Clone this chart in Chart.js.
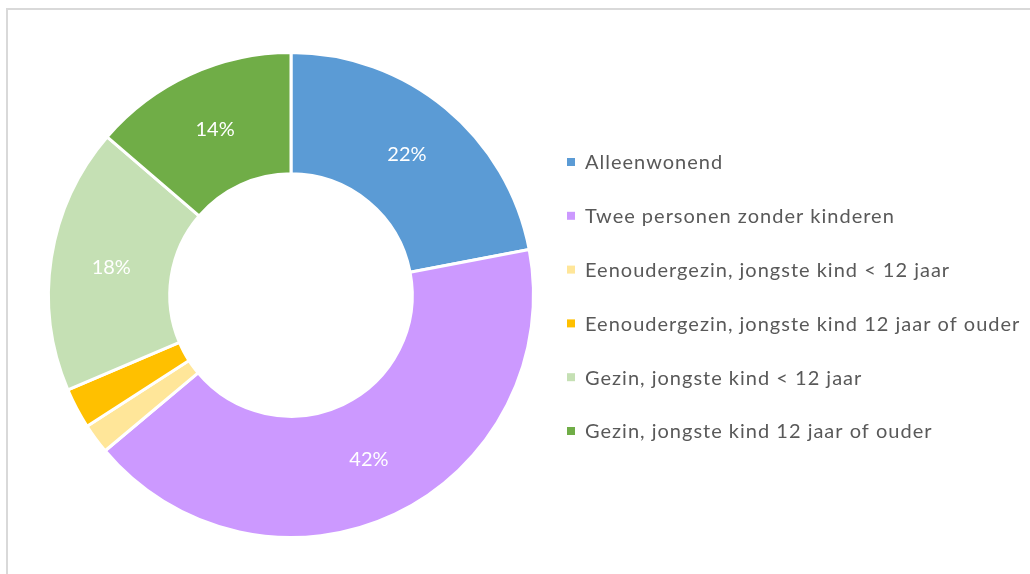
<!DOCTYPE html>
<html>
<head>
<meta charset="utf-8">
<script src="https://cdn.jsdelivr.net/npm/chart.js@4"></script>
<style>
  html, body { margin: 0; padding: 0; background: #ffffff; }
  #frame { position: absolute; left: 6px; top: 8px; width: 1100px; height: 700px; border: 2px solid #d9d9d9; box-sizing: border-box; }
  #wrap { position: absolute; left: 0; top: 0; width: 1030px; height: 574px; }
</style>
</head>
<body>
<div id="frame"></div>
<div id="wrap"><canvas id="c" width="1030" height="574"></canvas></div>
<script>
const categories = [
  "Alleenwonend",
  "Twee personen zonder kinderen",
  "Eenoudergezin, jongste kind < 12 jaar",
  "Eenoudergezin, jongste kind 12 jaar of ouder",
  "Gezin, jongste kind < 12 jaar",
  "Gezin, jongste kind 12 jaar of ouder"
];
const shares = [22.0, 41.9, 2.0, 2.7, 17.7, 13.7];
const sliceColors = ["#5B9BD5", "#CC99FF", "#FFE699", "#FFC000", "#C5E0B4", "#70AD47"];

const FONT = "Lato, 'Open Sans', sans-serif";

const sliceLabels = {
  id: 'sliceLabels',
  afterDatasetsDraw(chart) {
    const ctx = chart.ctx;
    const meta = chart.getDatasetMeta(0);
    const data = chart.data.datasets[0].data;
    const total = data.reduce((a, b) => a + b, 0);
    ctx.save();
    ctx.font = "20px " + FONT;
    ctx.fillStyle = "#ffffff";
    ctx.textAlign = "center";
    ctx.textBaseline = "middle";
    meta.data.forEach((arc, i) => {
      const pct = data[i] / total * 100;
      if (pct < 5) return;
      const p = arc.tooltipPosition();
      ctx.fillText(Math.round(pct) + "%", p.x, p.y);
    });
    ctx.restore();
  }
};

const sideLegend = {
  id: 'sideLegend',
  afterDraw(chart) {
    const ctx = chart.ctx;
    const labels = chart.data.labels;
    const colors = chart.data.datasets[0].backgroundColor;
    ctx.save();
    ctx.font = "20px " + FONT;
    ctx.textAlign = "left";
    ctx.textBaseline = "middle";
    try { ctx.letterSpacing = "1px"; } catch (e) {}
    const x0 = 567, y0 = 162, step = 53.8;
    labels.forEach((lab, i) => {
      const y = y0 + i * step;
      ctx.fillStyle = colors[i];
      ctx.fillRect(x0, y - 4, 8, 8);
      ctx.fillStyle = "#595959";
      ctx.fillText(lab, x0 + 18, y + 1);
    });
    ctx.restore();
  }
};

new Chart(document.getElementById('c'), {
  type: 'doughnut',
  data: {
    labels: categories,
    datasets: [{
      data: shares,
      backgroundColor: sliceColors,
      borderColor: "#ffffff",
      borderWidth: 3,
      hoverOffset: 0
    }]
  },
  options: {
    responsive: false,
    animation: false,
    cutout: '50%',
    layout: { padding: { left: 47, top: 51, right: 495, bottom: 35 } },
    plugins: {
      legend: { display: false },
      tooltip: { enabled: false }
    }
  },
  plugins: [sliceLabels, sideLegend]
});
</script>
</body>
</html>
